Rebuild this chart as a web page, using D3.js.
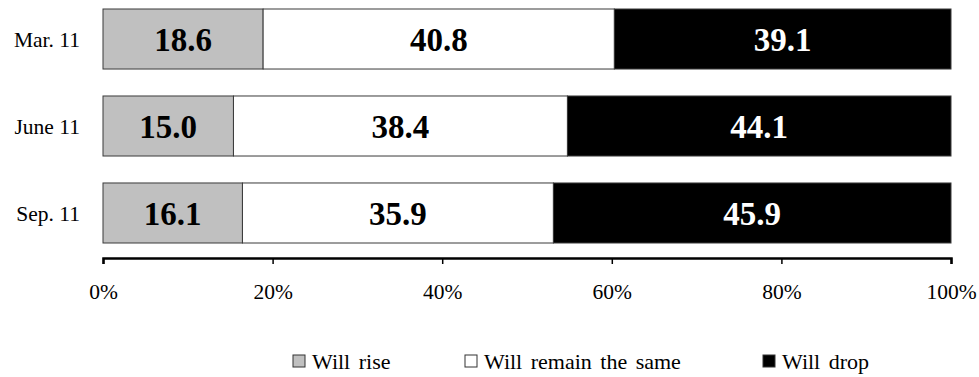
<!DOCTYPE html>
<html>
<head>
<meta charset="utf-8">
<script src="https://cdn.jsdelivr.net/npm/d3@7"></script>
<style>
  html, body { margin: 0; padding: 0; background: #fff; }
  svg { display: block; }
  text { font-family: "Liberation Serif", "Times New Roman", serif; }
</style>
</head>
<body>
<svg id="chart" width="979" height="377"></svg>
<script>
// Survey periods and answer shares (%)
const periods = ["Mar. 11", "June 11", "Sep. 11"];
const willRise = [18.6, 15.0, 16.1];
const willRemain = [40.8, 38.4, 35.9];
const willDrop = [39.1, 44.1, 45.9];
const seriesNames = ["Will rise", "Will remain the same", "Will drop"];
const tickValues = [0, 0.2, 0.4, 0.6, 0.8, 1.0];

const fills = ["#c0c0c0", "#ffffff", "#000000"];
const labelColors = ["#000000", "#000000", "#ffffff"];

const rows = periods.map((p, i) => ({
  period: p,
  "Will rise": willRise[i],
  "Will remain the same": willRemain[i],
  "Will drop": willDrop[i]
}));

const svg = d3.select("#chart");

const x = d3.scaleLinear().domain([0, 1]).range([103, 951]);
const y = d3.scaleBand().domain(periods).range([9, 243]).paddingInner(0.31).paddingOuter(0);

// Each bar is scaled to fill the full 0–100% width
const stacked = d3.stack().keys(seriesNames).offset(d3.stackOffsetExpand)(rows);

const layers = svg.append("g")
  .selectAll("g")
  .data(stacked)
  .join("g")
  .attr("fill", (d, i) => fills[i]);

layers.selectAll("rect")
  .data(d => d)
  .join("rect")
  .attr("x", d => x(d[0]))
  .attr("y", d => y(d.data.period))
  .attr("width", d => x(d[1]) - x(d[0]))
  .attr("height", y.bandwidth())
  .attr("stroke", "#3a3a3a")
  .attr("stroke-width", 1);

// Value labels centred in each segment
layers.selectAll("text")
  .data((d, i) => d.map(v => ({ v, key: d.key, idx: i })))
  .join("text")
  .attr("x", d => (x(d.v[0]) + x(d.v[1])) / 2)
  .attr("y", d => y(d.v.data.period) + y.bandwidth() / 2 + 12)
  .attr("text-anchor", "middle")
  .attr("font-size", 33)
  .attr("font-weight", "bold")
  .attr("fill", d => labelColors[d.idx])
  .text(d => d3.format(".1f")(d.v.data[d.key]));

// Category labels
svg.append("g")
  .selectAll("text")
  .data(periods)
  .join("text")
  .attr("x", 80)
  .attr("y", d => y(d) + y.bandwidth() / 2 + 8)
  .attr("text-anchor", "end")
  .attr("font-size", 21.5)
  .attr("fill", "#000")
  .text(d => d);

// Percentage axis below the bars
const axis = svg.append("g")
  .attr("transform", "translate(0,258)")
  .call(d3.axisBottom(x)
    .tickValues(tickValues)
    .tickFormat(d3.format(".0%"))
    .tickSize(6)
    .tickSizeOuter(6)
    .tickPadding(20));
axis.select(".domain").attr("stroke", "#000").attr("stroke-width", 2.5);
axis.selectAll(".tick line").attr("stroke", "#000").attr("stroke-width", 1.5);
axis.selectAll(".tick text")
  .attr("font-family", "Liberation Serif, Times New Roman, serif")
  .attr("font-size", 21.5)
  .attr("fill", "#000");

// Legend
const legendX = [293, 465, 763];
const legend = svg.append("g")
  .selectAll("g")
  .data(seriesNames)
  .join("g")
  .attr("transform", (d, i) => `translate(${legendX[i]},355)`);
legend.append("rect")
  .attr("width", 12)
  .attr("height", 12)
  .attr("fill", (d, i) => fills[i])
  .attr("stroke", "#333")
  .attr("stroke-width", 1);
legend.append("text")
  .attr("x", 19)
  .attr("y", 13.5)
  .attr("font-size", 22)
  .attr("word-spacing", 3)
  .attr("fill", "#000")
  .text(d => d);
</script>
</body>
</html>
